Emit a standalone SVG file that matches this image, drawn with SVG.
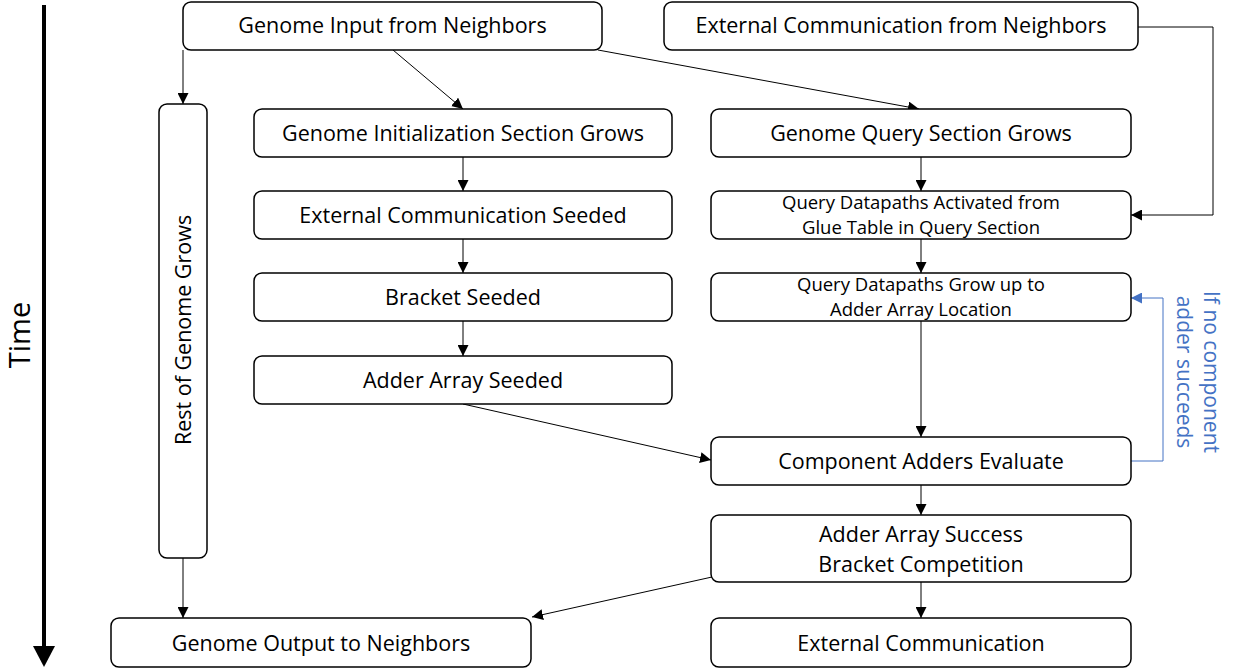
<svg xmlns="http://www.w3.org/2000/svg" width="1233" height="669" viewBox="0 0 1233 669">
<style>
.box{fill:#fff;stroke:#000;stroke-width:1.5}
.t{font-family:"Open Sans","Liberation Sans",sans-serif;font-size:21.5px;fill:#000;text-anchor:middle}
.s{font-size:18.5px}
.c{fill:none;stroke:#000;stroke-width:1}
.b{fill:none;stroke:#4472C4;stroke-width:1}
.bt{font-family:"Open Sans","Liberation Sans",sans-serif;font-size:21px;fill:#4472C4;text-anchor:middle}
</style>
<defs>
<marker id="ah" viewBox="0 0 10 10" refX="10" refY="5" markerWidth="11" markerHeight="11" markerUnits="userSpaceOnUse" orient="auto"><path d="M0,0 L10,5 L0,10 Z" fill="#000"/></marker>
<marker id="ahb" viewBox="0 0 10 10" refX="10" refY="5" markerWidth="11" markerHeight="11" markerUnits="userSpaceOnUse" orient="auto"><path d="M0,0 L10,5 L0,10 Z" fill="#4472C4"/></marker>
</defs>
<g id="time">
<line x1="44" y1="5" x2="44" y2="648" stroke="#000" stroke-width="4"/>
<polygon points="33,646 55,646 44,667" fill="#000"/>
<text class="t" style="font-size:29px" transform="translate(30,335) rotate(-90)">Time</text>
</g>
<g id="connectors">
<line class="c" x1="183" y1="50" x2="183" y2="104" marker-end="url(#ah)"/>
<line class="c" x1="393" y1="50" x2="463" y2="109" marker-end="url(#ah)"/>
<line class="c" x1="598" y1="50" x2="919" y2="109" marker-end="url(#ah)"/>
<polyline class="c" points="1138,27 1213,27 1213,215 1131,215" marker-end="url(#ah)"/>
<line class="c" x1="463" y1="157" x2="463" y2="191" marker-end="url(#ah)"/>
<line class="c" x1="463" y1="239" x2="463" y2="273" marker-end="url(#ah)"/>
<line class="c" x1="463" y1="321" x2="463" y2="356" marker-end="url(#ah)"/>
<line class="c" x1="921" y1="157" x2="921" y2="191" marker-end="url(#ah)"/>
<line class="c" x1="921" y1="239" x2="921" y2="273" marker-end="url(#ah)"/>
<line class="c" x1="921" y1="321" x2="921" y2="437" marker-end="url(#ah)"/>
<line class="c" x1="921" y1="485" x2="921" y2="515" marker-end="url(#ah)"/>
<line class="c" x1="921" y1="582" x2="921" y2="618" marker-end="url(#ah)"/>
<line class="c" x1="463" y1="404" x2="711" y2="460" marker-end="url(#ah)"/>
<line class="c" x1="712" y1="577" x2="532" y2="617" marker-end="url(#ah)"/>
<line class="c" x1="183" y1="558" x2="183" y2="618" marker-end="url(#ah)"/>
<polyline class="b" points="1131,461 1163,461 1163,298 1131,298" marker-end="url(#ahb)"/>
<g transform="translate(1190,372) rotate(90)">
<text class="bt" x="0" y="-14">If no component</text>
<text class="bt" x="0" y="13">adder succeeds</text>
</g>
</g>
<g id="n-genome-input"><rect class="box" x="183" y="2" width="419" height="48" rx="8"/><text class="t" x="392.5" y="33">Genome Input from Neighbors</text></g>
<g id="n-ext-comm-from"><rect class="box" x="664" y="2" width="474" height="48" rx="8"/><text class="t" x="901" y="33">External Communication from Neighbors</text></g>
<g id="n-rest"><rect class="box" x="159" y="104" width="48" height="454" rx="8"/><text class="t" transform="translate(191,330) rotate(-90)">Rest of Genome Grows</text></g>
<g id="n-init"><rect class="box" x="254" y="109" width="418" height="48" rx="8"/><text class="t" x="463" y="141">Genome Initialization Section Grows</text></g>
<g id="n-query"><rect class="box" x="711" y="109" width="420" height="48" rx="8"/><text class="t" x="921" y="141">Genome Query Section Grows</text></g>
<g id="n-ext-seeded"><rect class="box" x="254" y="191" width="418" height="48" rx="8"/><text class="t" x="463" y="223">External Communication Seeded</text></g>
<g id="n-activated"><rect class="box" x="711" y="191" width="420" height="48" rx="8"/><text class="t s" x="921" y="209">Query Datapaths Activated from</text><text class="t s" x="921" y="234">Glue Table in Query Section</text></g>
<g id="n-bracket"><rect class="box" x="254" y="273" width="418" height="48" rx="8"/><text class="t" x="463" y="305">Bracket Seeded</text></g>
<g id="n-grow"><rect class="box" x="711" y="273" width="420" height="48" rx="8"/><text class="t s" x="921" y="291">Query Datapaths Grow up to</text><text class="t s" x="921" y="316">Adder Array Location</text></g>
<g id="n-adder-seeded"><rect class="box" x="254" y="356" width="418" height="48" rx="8"/><text class="t" x="463" y="388">Adder Array Seeded</text></g>
<g id="n-evaluate"><rect class="box" x="711" y="437" width="420" height="48" rx="8"/><text class="t" x="921" y="469">Component Adders Evaluate</text></g>
<g id="n-success"><rect class="box" x="711" y="515" width="420" height="67" rx="8"/><text class="t" x="921" y="542">Adder Array Success</text><text class="t" x="921" y="572">Bracket Competition</text></g>
<g id="n-output"><rect class="box" x="111" y="618" width="420" height="49" rx="8"/><text class="t" x="321" y="651">Genome Output to Neighbors</text></g>
<g id="n-ext-comm"><rect class="box" x="711" y="618" width="420" height="49" rx="8"/><text class="t" x="921" y="651">External Communication</text></g>
</svg>
